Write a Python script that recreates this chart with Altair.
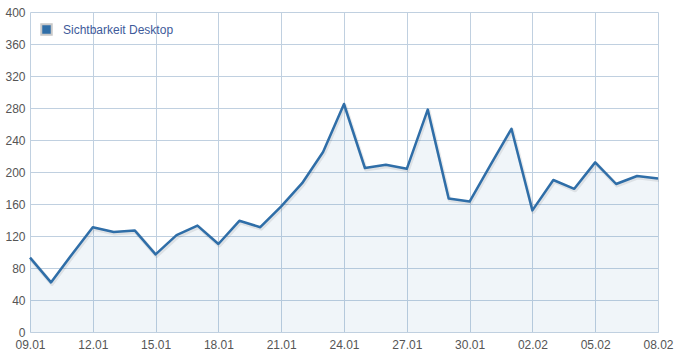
import altair as alt
import pandas as pd

days = list(range(31))
values = [93, 62, 97, 131, 125, 127, 97, 121, 133, 110, 139, 131, 157, 186, 225, 285,
          205, 209, 204, 278, 167, 163, 209, 254, 152, 190, 179, 212, 185, 195, 192]
tick_labels = ["09.01", "12.01", "15.01", "18.01", "21.01", "24.01", "27.01",
               "30.01", "02.02", "05.02", "08.02"]
series_name = "Sichtbarkeit Desktop"

df = pd.DataFrame({"day": days, "value": values, "series": series_name})

label_arr = "[" + ",".join("'%s'" % t for t in tick_labels) + "]"

x = alt.X("day:Q",
          scale=alt.Scale(domain=[0, 30], nice=False, zero=False),
          axis=alt.Axis(values=list(range(0, 31, 3)), labelExpr=label_arr + "[round(datum.value/3)]",
                        title=None, grid=True, gridColor="#C0D0E0", gridWidth=1,
                        domain=True, domainColor="#C0D0E0", ticks=False,
                        labelPadding=7, labelFontSize=12, labelColor="#555555",
                        labelFont="Liberation Sans", labelFlush=False))
y = alt.Y("value:Q",
          scale=alt.Scale(domain=[0, 400], nice=False),
          axis=alt.Axis(values=list(range(0, 401, 40)), title=None, grid=True,
                        gridColor="#C0D0E0", gridWidth=1, domain=False, ticks=False,
                        labelPadding=5, labelFontSize=12, labelColor="#555555",
                        labelFont="Liberation Sans"))

area = alt.Chart(df).mark_area(fillOpacity=0.07).encode(
    x=x, y=y,
    color=alt.Color("series:N",
                    scale=alt.Scale(domain=[series_name], range=["#2F6EA8"]),
                    legend=alt.Legend(title=None, orient="none", legendX=10, legendY=11,
                                      symbolType="square", symbolSize=110,
                                      symbolStrokeColor="#C8C8C8", symbolStrokeWidth=2,
                                      symbolOpacity=1, labelFont="Liberation Sans",
                                      labelFontSize=12, labelColor="#3E5A9A",
                                      labelOffset=10))
)

shadow = alt.Chart(df).mark_line(stroke="#000000", strokeOpacity=0.08, strokeWidth=4,
                                 xOffset=1, yOffset=1.5, strokeJoin="round").encode(x=x, y=y)

line = alt.Chart(df).mark_line(stroke="#2F6EA8", strokeWidth=2.5, strokeJoin="round").encode(x=x, y=y)

chart = alt.layer(area, shadow, line).properties(
    width=628, height=320,
    autosize=alt.AutoSizeParams(type="none"),
    padding={"left": 30, "top": 12, "right": 19, "bottom": 28},
    background="#FFFFFF"
).configure_view(stroke=None)

chart.save("out.html", embed_options={"renderer": "svg", "actions": False})
